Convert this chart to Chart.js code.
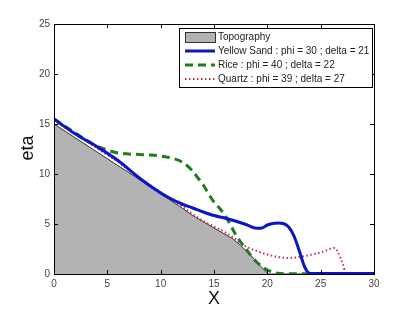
<!DOCTYPE html>
<html>
<head>
<meta charset="utf-8">
<script src="https://cdn.jsdelivr.net/npm/chart.js@4/dist/chart.umd.min.js"></script>
<style>
  html, body { margin: 0; padding: 0; background: #fff; }
  #wrap { width: 414px; height: 310px; }
</style>
</head>
<body>
<div id="wrap"><canvas id="chart" width="414" height="310"></canvas></div>
<script>
// datos
const topoX = [0, 8, 12, 13, 15, 16.8, 17.5, 18.5, 19.4, 20.1, 30];
const topoY = [15, 9.45, 6.6, 5.85, 4.6, 3.5, 2.85, 1.8, 0.75, 0, 0];

const sandX = [0, 2, 4, 6, 8, 10, 11, 12, 13, 14, 15, 16, 17, 18, 19, 19.5, 20, 20.5, 21, 21.5, 22, 22.5, 23, 23.5, 24, 30];
const sandY = [15.5, 14.0, 12.75, 11.35, 9.6, 8.1, 7.5, 7.0, 6.6, 6.2, 5.85, 5.6, 5.3, 4.95, 4.57, 4.6, 4.9, 5.05, 5.1, 5.05, 4.7, 3.8, 2.3, 0.7, 0.05, 0.05];

const riceX = [0, 2, 3, 4, 5, 6, 7, 8, 9, 10, 11, 12, 13, 13.5, 14, 14.5, 15, 15.5, 16, 16.5, 17, 17.5, 18, 18.5, 19, 19.5, 20, 20.5, 21, 21.5, 30];
const riceY = [15.5, 14.1, 13.4, 12.8, 12.4, 12.1, 12.0, 11.95, 11.9, 11.8, 11.6, 11.2, 10.3, 9.6, 8.9, 8.0, 7.2, 6.6, 5.9, 5.0, 4.0, 3.2, 2.5, 1.8, 1.2, 0.75, 0.4, 0.2, 0.07, 0.02, 0.02];

const quartzX = [0, 2, 4, 6, 8, 10, 12, 13, 14, 15, 16, 17, 17.5, 18, 18.5, 19, 19.5, 20, 21, 22, 23, 24, 25, 25.5, 26, 26.3, 26.6, 26.9, 27.1, 27.3, 27.5, 30];
const quartzY = [15.3, 14.0, 12.6, 11.2, 9.6, 8.2, 6.75, 6.0, 5.3, 4.75, 4.2, 3.5, 3.05, 2.75, 2.5, 2.3, 2.1, 1.95, 1.7, 1.6, 1.7, 1.9, 2.15, 2.35, 2.55, 2.6, 2.2, 1.5, 0.9, 0.2, 0.05, 0.05];

const xTicks = [0, 5, 10, 15, 20, 25, 30];
const yTicks = [0, 5, 10, 15, 20, 25];

const labels = [
  "Topography",
  "Yellow Sand : phi = 30 ; delta = 21",
  "Rice : phi = 40 ; delta = 22",
  "Quartz : phi = 39 ; delta = 27"
];

function puntos(xs, ys) {
  return xs.map((x, i) => ({ x: x, y: ys[i] }));
}

const FONT = "'Liberation Sans', Arial, sans-serif";

// leyenda, ejes y marcas al estilo MATLAB
const marcoPlugin = {
  id: "marco",
  afterDraw(chart) {
    const ctx = chart.ctx;
    const a = chart.chartArea;
    const xs = chart.scales.x;
    const ys = chart.scales.y;

    ctx.save();
    ctx.strokeStyle = "#000";
    ctx.lineWidth = 1;
    ctx.strokeRect(Math.round(a.left) + 0.5, Math.round(a.top) + 0.5,
      Math.round(a.right - a.left), Math.round(a.bottom - a.top));

    // marcas hacia dentro
    const tl = 4;
    ctx.beginPath();
    xTicks.forEach(v => {
      const px = Math.round(xs.getPixelForValue(v)) + 0.5;
      ctx.moveTo(px, a.bottom); ctx.lineTo(px, a.bottom - tl);
      ctx.moveTo(px, a.top); ctx.lineTo(px, a.top + tl);
    });
    yTicks.forEach(v => {
      const py = Math.round(ys.getPixelForValue(v)) + 0.5;
      ctx.moveTo(a.left, py); ctx.lineTo(a.left + tl, py);
      ctx.moveTo(a.right, py); ctx.lineTo(a.right - tl, py);
    });
    ctx.stroke();

    // titulos de ejes
    ctx.fillStyle = "#111";
    ctx.font = "18px " + FONT;
    ctx.textAlign = "center";
    ctx.textBaseline = "middle";
    ctx.fillText("X", (a.left + a.right) / 2, 299);
    ctx.save();
    ctx.translate(28, 148);
    ctx.rotate(-Math.PI / 2);
    ctx.fillText("eta", 0, 0);
    ctx.restore();

    // leyenda
    const bx = 179, by = 28, bw = 193, bh = 59;
    ctx.fillStyle = "#fff";
    ctx.fillRect(bx, by, bw, bh);
    ctx.strokeStyle = "#000";
    ctx.lineWidth = 1;
    ctx.strokeRect(bx + 0.5, by + 0.5, bw, bh);

    const filas = [37, 51, 65, 79];
    ctx.font = "10px " + FONT;
    ctx.textAlign = "left";
    ctx.textBaseline = "middle";
    chart.data.datasets.forEach((ds, i) => {
      const y = filas[i];
      if (i === 0) {
        ctx.fillStyle = ds.backgroundColor;
        ctx.fillRect(185, y - 5, 30, 10);
        ctx.strokeStyle = "#333";
        ctx.strokeRect(185.5, y - 4.5, 30, 10);
      } else {
        ctx.strokeStyle = ds.borderColor;
        ctx.lineWidth = ds.borderWidth;
        ctx.setLineDash(ds.borderDash || []);
        ctx.beginPath();
        ctx.moveTo(185, y);
        ctx.lineTo(215, y);
        ctx.stroke();
        ctx.setLineDash([]);
      }
      ctx.fillStyle = "#222";
      ctx.fillText(ds.label, 218, y);
    });
    ctx.restore();
  }
};

const ctx = document.getElementById("chart").getContext("2d");
new Chart(ctx, {
  type: "line",
  data: {
    datasets: [
      {
        label: labels[0],
        data: puntos(topoX, topoY),
        borderColor: "#333",
        borderWidth: 1,
        backgroundColor: "#b3b3b3",
        fill: "origin",
        tension: 0,
        pointRadius: 0,
        order: 10
      },
      {
        label: labels[1],
        data: puntos(sandX, sandY),
        borderColor: "#0a14c8",
        borderWidth: 3,
        fill: false,
        cubicInterpolationMode: "monotone",
        pointRadius: 0,
        order: 1
      },
      {
        label: labels[2],
        data: puntos(riceX, riceY),
        borderColor: "#1d7d1d",
        borderWidth: 3,
        borderDash: [8, 5],
        fill: false,
        cubicInterpolationMode: "monotone",
        pointRadius: 0,
        order: 2
      },
      {
        label: labels[3],
        data: puntos(quartzX, quartzY),
        borderColor: "#c8304a",
        borderWidth: 2,
        borderDash: [1.5, 2.5],
        fill: false,
        cubicInterpolationMode: "monotone",
        pointRadius: 0,
        order: 3
      }
    ]
  },
  options: {
    responsive: false,
    animation: false,
    devicePixelRatio: 1,
    layout: { padding: { left: 0, right: 40, top: 24, bottom: 0 } },
    plugins: {
      legend: { display: false },
      tooltip: { enabled: false }
    },
    scales: {
      x: {
        type: "linear",
        min: 0,
        max: 30,
        afterBuildTicks: s => { s.ticks = xTicks.map(v => ({ value: v })); },
        afterFit: s => { s.height = 36; },
        grid: { display: false, drawTicks: false },
        border: { display: false },
        ticks: { color: "#444", font: { size: 10, family: FONT }, padding: 4, maxRotation: 0 }
      },
      y: {
        type: "linear",
        min: 0,
        max: 25,
        afterBuildTicks: s => { s.ticks = yTicks.map(v => ({ value: v })); },
        afterFit: s => { s.width = 54; },
        grid: { display: false, drawTicks: false },
        border: { display: false },
        ticks: { color: "#444", font: { size: 10, family: FONT }, padding: 4 }
      }
    }
  },
  plugins: [marcoPlugin]
});
</script>
</body>
</html>
